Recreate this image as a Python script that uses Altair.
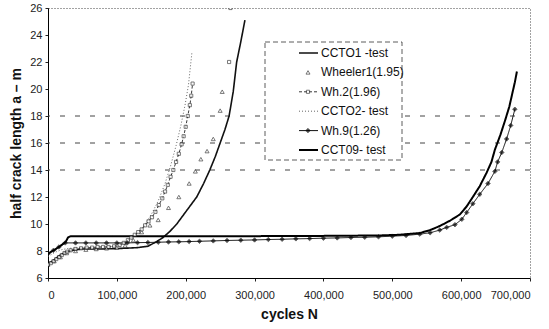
import altair as alt
import pandas as pd

series_names = ["CCTO1 -test", "Wheeler1(1.95)", "Wh.2(1.96)", "CCTO2- test", "Wh.9(1.26)", "CCT09- test"]
marker_series = ["Wheeler1(1.95)", "Wh.2(1.96)", "Wh.9(1.26)"]
x_ticks = [0, 100000, 200000, 300000, 400000, 500000, 600000, 700000]
y_ticks = [6, 8, 10, 12, 14, 16, 18, 20, 22, 24, 26]
grid_vals = [14, 16, 18]

# CCTO1 -test
n_ccto1 = [0, 8000, 15000, 25000, 35000, 50000, 80000, 110000, 130000, 145000, 158000, 167000, 177000,
           187000, 200000, 216000, 226000, 235000, 243000, 250000, 257000, 263000, 269000, 274000, 280000, 286000]
a_ccto1 = [7.05, 7.3, 7.6, 7.9, 8.05, 8.15, 8.15, 8.2, 8.25, 8.35, 8.7, 9.0, 9.45,
           10.0, 10.9, 12.0, 13.0, 14.0, 15.0, 16.0, 17.0, 18.0, 19.8, 22.0, 23.5, 25.1]

# Wheeler1(1.95)
n_wh1 = [0, 9000, 18000, 27000, 40000, 55000, 70000, 85000, 100000, 112000, 124000, 136000, 148000,
         160000, 175000, 190000, 205000, 214000, 222000, 231000, 240000, 250000, 253000]
a_wh1 = [7.0, 7.25, 7.55, 7.85, 8.0, 8.1, 8.15, 8.2, 8.25, 8.4, 8.8, 9.4, 9.9,
         10.3, 11.2, 12.0, 13.0, 13.9, 14.8, 15.4, 16.3, 18.4, 19.8]

# Wh.2(1.96)
n_wh2 = [0, 4000, 8000, 12000, 16000, 20000, 24000, 28000, 33000, 40000, 48000, 56000, 64000, 72000,
         80000, 88000, 96000, 104000, 110000, 116000, 121000, 126000, 131000, 136000, 141000, 146000,
         151000, 156000, 161000, 166000, 170000, 174000, 178000, 182000, 186000, 190000, 194000, 197000,
         200000, 203000, 206000, 208000, 210000, 263000, 265000]
a_wh2 = [7.0, 7.1, 7.25, 7.4, 7.55, 7.7, 7.85, 7.95, 8.05, 8.15, 8.2, 8.25, 8.25, 8.3,
         8.3, 8.3, 8.35, 8.45, 8.6, 8.8, 9.0, 9.2, 9.4, 9.6, 9.9, 10.2,
         10.5, 10.9, 11.4, 11.9, 12.4, 12.9, 13.5, 14.0, 14.6, 15.2, 15.9, 16.5,
         17.2, 18.0, 18.8, 19.5, 20.4, 22.0, 26.0]
seg_wh2 = [1] * 43 + [2, 3]

# CCTO2- test
n_ccto2 = [0, 10000, 20000, 30000, 60000, 90000, 110000, 120000, 130000, 140000, 150000, 160000,
           170000, 178000, 186000, 193000, 199000, 204000, 209000]
a_ccto2 = [7.6, 7.9, 8.1, 8.2, 8.25, 8.3, 8.5, 8.8, 9.3, 9.9, 10.7, 11.7,
           13.0, 14.3, 15.8, 17.3, 18.8, 20.3, 22.7]

# Wh.9(1.26)
n_wh9 = [0, 8000, 16000, 25000, 40000, 55000, 70000, 85000, 100000, 115000, 130000, 145000, 160000,
         175000, 190000, 205000, 220000, 240000, 260000, 280000, 300000, 320000, 340000, 360000, 380000,
         400000, 420000, 440000, 460000, 480000, 500000, 520000, 540000, 555000, 569000, 579000, 591000,
         601000, 608000, 617000, 627000, 639000, 649000, 653000, 659000, 666000, 672000, 678000]
a_wh9 = [7.8, 8.05, 8.3, 8.6, 8.6, 8.6, 8.6, 8.6, 8.6, 8.6, 8.62, 8.63, 8.65,
         8.67, 8.68, 8.7, 8.72, 8.75, 8.78, 8.8, 8.82, 8.85, 8.87, 8.9, 8.92,
         8.95, 8.97, 9.0, 9.02, 9.05, 9.1, 9.15, 9.25, 9.35, 9.55, 9.75, 9.95,
         10.35, 10.85, 11.5, 12.2, 13.0, 13.9, 14.6, 15.3, 16.3, 17.3, 18.5]

# CCT09- test
n_cct09 = [0, 10000, 20000, 26000, 29000, 33000, 100000, 200000, 300000, 400000, 480000, 510000,
           540000, 555000, 569000, 584000, 598000, 608000, 617000, 627000, 637000, 644000, 649000,
           657000, 664000, 670000, 674000, 678000, 681000]
a_cct09 = [7.8, 8.1, 8.45, 8.7, 9.0, 9.1, 9.1, 9.1, 9.1, 9.12, 9.15, 9.2,
           9.33, 9.55, 9.85, 10.25, 10.7, 11.3, 12.0, 12.8, 13.8, 14.6, 15.5,
           16.6, 17.7, 18.7, 19.6, 20.5, 21.3]

rows = []
def add(name, ns, avals, segs=None):
    for i, (n, a) in enumerate(zip(ns, avals)):
        rows.append({"series": name, "N": n, "a": a, "seg": segs[i] if segs else 1})

add(series_names[0], n_ccto1, a_ccto1)
add(series_names[1], n_wh1, a_wh1)
add(series_names[2], n_wh2, a_wh2, seg_wh2)
add(series_names[3], n_ccto2, a_ccto2)
add(series_names[4], n_wh9, a_wh9)
add(series_names[5], n_cct09, a_cct09)
df = pd.DataFrame(rows)

FONT = "Liberation Sans"
xscale = alt.Scale(domain=[0, 700000], nice=False)
yscale = alt.Scale(domain=[6, 26], nice=False, zero=False)
color_scale = alt.Scale(type="ordinal", domain=series_names, range=["#111", "#111", "#222", "#666", "#111", "#000"])
dash_scale = alt.Scale(type="ordinal", domain=series_names, range=[[1, 0], [1, 0], [3, 2], [1, 2], [1, 0], [1, 0]])
width_scale = alt.Scale(type="ordinal", domain=series_names, range=[1.6, 1, 0.9, 1, 1, 2.0])
shape_scale = alt.Scale(type="ordinal", domain=marker_series, range=["triangle-up", "square", "diamond"])
fill_scale = alt.Scale(type="ordinal", domain=marker_series, range=["white", "white", "black"])
size_scale = alt.Scale(type="ordinal", domain=marker_series, range=[16, 10, 20])
leg_y = alt.Scale(type="point", domain=series_names, range=[45, 142], padding=0)

xaxis = alt.Axis(values=x_ticks, format=",d", labelFontSize=11, labelColor="#222", tickSize=3,
                 tickColor="#222", labelPadding=8, title="cycles N", titleFontSize=14,
                 titleFontWeight="bold", titlePadding=7, grid=False, domainColor="#000",
                 labelFont=FONT, titleFont=FONT, titleColor="#111")
yaxis = alt.Axis(values=y_ticks, labelFontSize=11, labelColor="#222", tickSize=3, tickColor="#222",
                 labelPadding=3, title="half crack length a – m", titleFontSize=14,
                 titleFontWeight="bold", titlePadding=6, grid=False, domainColor="#000",
                 labelFont=FONT, titleFont=FONT, titleColor="#111")

grid = alt.Chart(pd.DataFrame({"v": grid_vals})).mark_rule(
    strokeDash=[5, 10], color="#444", strokeWidth=1
).encode(y=alt.Y("v:Q", scale=yscale, axis=None))

lines = alt.Chart(df).transform_filter(
    alt.datum.series != "Wheeler1(1.95)"
).mark_line(clip=True).encode(
    x=alt.X("N:Q", scale=xscale, axis=xaxis),
    y=alt.Y("a:Q", scale=yscale, axis=yaxis),
    color=alt.Color("series:N", scale=color_scale, legend=None),
    strokeDash=alt.StrokeDash("series:N", scale=dash_scale, legend=None),
    strokeWidth=alt.StrokeWidth("series:N", scale=width_scale, legend=None),
    detail="seg:N",
    order="N:Q",
)

points = alt.Chart(df).transform_filter(
    alt.FieldOneOfPredicate(field="series", oneOf=marker_series)
).mark_point(filled=True, stroke="#111", strokeWidth=0.8, clip=True).encode(
    x=alt.X("N:Q", scale=xscale, axis=xaxis),
    y=alt.Y("a:Q", scale=yscale, axis=None),
    shape=alt.Shape("series:N", scale=shape_scale, legend=None),
    fill=alt.Fill("series:N", scale=fill_scale, legend=None),
    size=alt.Size("series:N", scale=size_scale, legend=None),
)

legend_df = pd.DataFrame({"series": series_names})

leg_box = alt.Chart(pd.DataFrame({"k": [0]})).mark_rect(
    fill="white", stroke="#333", strokeDash=[5, 3], strokeWidth=0.8
).encode(x=alt.value(217), x2=alt.value(354), y=alt.value(34), y2=alt.value(152))

leg_rules = alt.Chart(legend_df).transform_filter(
    alt.datum.series != "Wheeler1(1.95)"
).mark_rule().encode(
    x=alt.value(251), x2=alt.value(270),
    y=alt.Y("series:N", scale=leg_y, axis=None),
    color=alt.Color("series:N", scale=color_scale, legend=None),
    strokeDash=alt.StrokeDash("series:N", scale=dash_scale, legend=None),
    strokeWidth=alt.StrokeWidth("series:N", scale=width_scale, legend=None),
)

leg_points = alt.Chart(legend_df).transform_filter(
    alt.FieldOneOfPredicate(field="series", oneOf=marker_series)
).mark_point(filled=True, stroke="#111", strokeWidth=0.8).encode(
    x=alt.value(260),
    y=alt.Y("series:N", scale=leg_y, axis=None),
    shape=alt.Shape("series:N", scale=shape_scale, legend=None),
    fill=alt.Fill("series:N", scale=fill_scale, legend=None),
    size=alt.Size("series:N", scale=size_scale, legend=None),
)

leg_text = alt.Chart(legend_df).mark_text(
    align="left", baseline="middle", fontSize=12, font=FONT, color="#111"
).encode(
    x=alt.value(273),
    y=alt.Y("series:N", scale=leg_y, axis=None),
    text="series:N",
)

chart = alt.layer(grid, lines, points, leg_box, leg_rules, leg_points, leg_text).resolve_scale(
    y="independent"
).properties(
    width=482, height=270,
    autosize=alt.AutoSizeParams(type="none"),
    padding={"left": 48, "top": 8, "right": 19, "bottom": 51},
    background="white",
).configure_view(stroke="#444", strokeDash=[1, 2], strokeWidth=1)

chart.save("out.html", embed_options={"renderer": "svg", "actions": False})
